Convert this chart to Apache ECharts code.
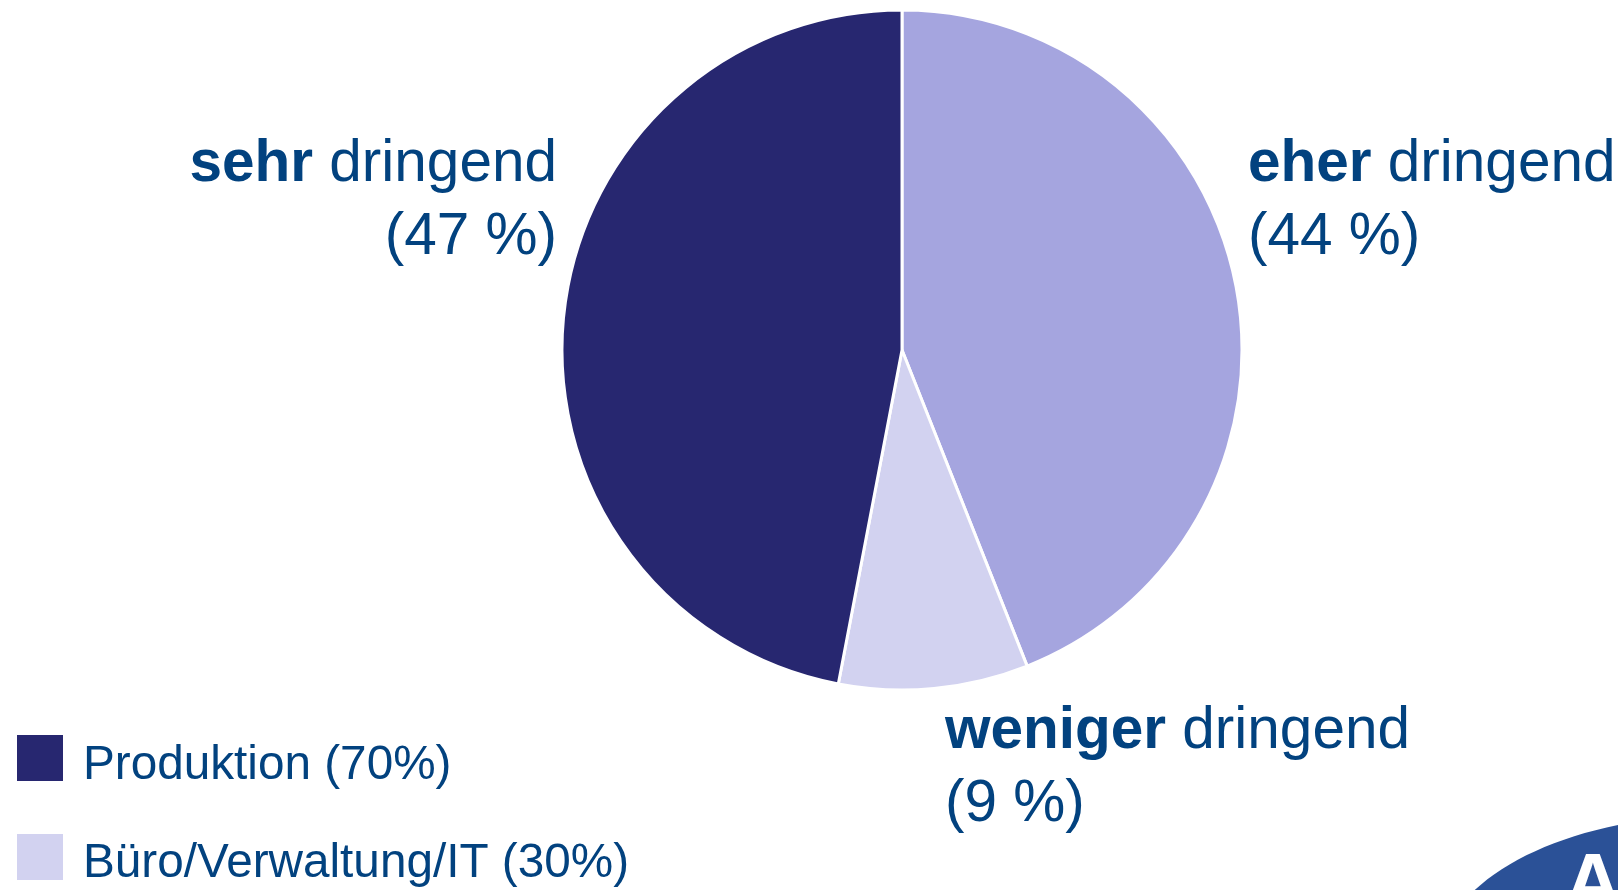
<!DOCTYPE html>
<html>
<head>
<meta http-equiv="Content-Type" content="text/html; charset=utf-8" />
<title></title>
<script type="text/javascript" src="https://cdn.jsdelivr.net/npm/echarts@6/dist/echarts.min.js"></script>
<style>
  html, body { margin: 0; padding: 0; background: #fff; }
  #chart { width: 1618px; height: 890px; }
</style>
</head>
<body>
<div id="chart"></div>
<script type="text/javascript">
// Daten (im Uhrzeigersinn ab 12 Uhr)
var categories = ['eher', 'weniger', 'sehr'];
var values = [44, 9, 47];
var sliceColors = ['#A5A5DF', '#D2D2F0', '#272770'];

// Legende (Beschäftigte)
var legendNames = ['Produktion (70%)', 'Büro/Verwaltung/IT (30%)'];
var legendColors = ['#272770', '#D2D2F0'];

var textColor = '#02427F';
var font = '"Liberation Sans", Arial, sans-serif';

// Position der Beschriftungen
var labelAnchors = [
    {x: 1248, y: 128, align: 'left'},
    {x: 945, y: 695, align: 'left'},
    {x: 557, y: 128, align: 'right'}
];

var pieData = [];
for (var i = 0; i < categories.length; i++) {
    pieData.push({
        name: categories[i],
        value: values[i],
        itemStyle: {color: sliceColors[i]}
    });
}

var graphics = [];
for (var j = 0; j < legendNames.length; j++) {
    graphics.push({
        type: 'rect',
        shape: {x: 17, y: 735 + j * 99, width: 46, height: 46},
        style: {fill: legendColors[j]}
    });
    graphics.push({
        type: 'text',
        x: 83,
        y: 766 + j * 98,
        style: {
            text: legendNames[j],
            fill: textColor,
            font: '47.7px ' + font,
            verticalAlign: 'middle',
            align: 'left'
        }
    });
}
// Logo unten rechts (angeschnitten)
graphics.push({
    type: 'ellipse',
    shape: {cx: 1720, cy: 960, rx: 280, ry: 145},
    style: {fill: '#2B5197'}
});
graphics.push({
    type: 'text',
    x: 1564,
    y: 847,
    style: {
        text: 'A',
        fill: '#fff',
        font: 'bold 80px ' + font,
        verticalAlign: 'top',
        align: 'left'
    }
});

var option = {
    animation: false,
    backgroundColor: '#fff',
    graphic: graphics,
    series: [
        {
            type: 'pie',
            center: [902, 350],
            radius: 340,
            startAngle: 90,
            clockwise: true,
            avoidLabelOverlap: false,
            itemStyle: {borderColor: '#fff', borderWidth: 3},
            label: {
                show: true,
                position: 'outside',
                color: textColor,
                fontFamily: font,
                fontSize: 58.5,
                lineHeight: 73,
                formatter: function (p) {
                    return '{b|' + p.name + '} dringend\n(' + p.value + ' %)';
                },
                rich: {
                    b: {
                        fontWeight: 'bold',
                        fontSize: 58.5,
                        lineHeight: 73,
                        color: textColor,
                        fontFamily: font
                    }
                }
            },
            labelLine: {show: false},
            labelLayout: function (params) {
                var a = labelAnchors[params.dataIndex];
                return {x: a.x, y: a.y, align: a.align, verticalAlign: 'top'};
            },
            emphasis: {disabled: true},
            data: pieData
        }
    ]
};

var mychart = echarts.init(document.getElementById('chart'));
mychart.setOption(option);
</script>
</body>
</html>
